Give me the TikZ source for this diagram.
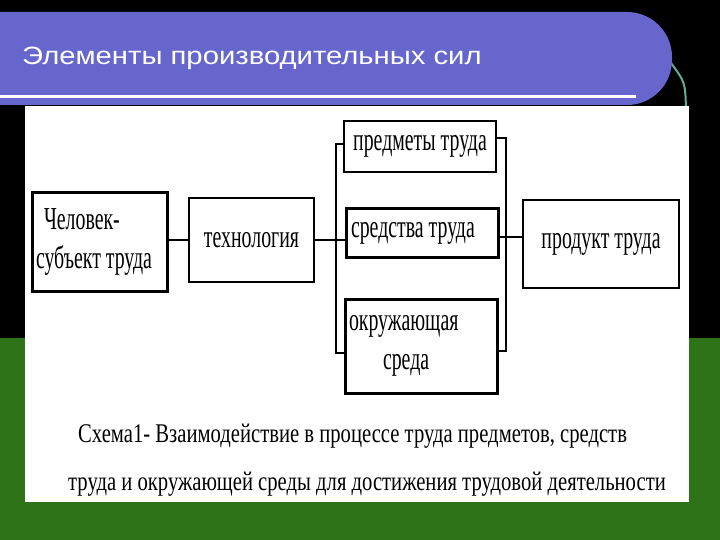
\documentclass[tikz,border=0pt]{standalone}
\usepackage{fontspec}
\setmainfont{Liberation Serif}
\newfontfamily\boxfont[FakeStretch=0.62]{Liberation Serif}
\newfontfamily\capfont[FakeStretch=0.765]{Liberation Serif}
\newfontfamily\titlefont[FakeStretch=1.17]{Liberation Sans}
\usetikzlibrary{positioning, calc}
\definecolor{slideblue}{RGB}{102, 102, 204}
\definecolor{slidegreen}{RGB}{46, 115, 24}
\definecolor{slideteal}{RGB}{102, 170, 153}
\tikzset{box/.style={draw=black, line width=2.2pt, inner xsep=4pt, inner ysep=0pt, font=\fontsize{32}{39}\boxfont}}
\tikzset{hbox/.style={box, line width=3pt}}
\tikzset{conn/.style={color=black, line width=2.2pt}}

\begin{document}
\begin{tikzpicture}[x=1pt, y=-1pt]
        \useasboundingbox (0,0) rectangle (720,540);
        \fill[black] (0,0) rectangle (720,540);
        \fill[slidegreen] (0,338) rectangle (720,540);

        % title bar
        \draw[slideteal, line width=2pt] (671,63) .. controls (685,82) .. (686,107);
        \fill[slideblue, rounded corners=45pt] (-60,12) rectangle (672,105);
        \fill[white] (0,95) rectangle (636,98.5);
        \node[anchor=base west, inner sep=0pt, text=white, font=\fontsize{25}{30}\titlefont] (Ttl) at (22,65)
        {Элементы производительных сил};

        % panel
        \fill[white] (25,106) rectangle (689,502);

        \node[hbox, minimum width=135pt, minimum height=98pt, text width=127pt, align=left] (Nman) at (99.5, 242)
        {\spaceskip=0pt\hspace*{8pt}Человек-\\субъект труда};
        \node[box, minimum width=125pt, minimum height=84pt, align=center] (Ntech) at (251.5, 240)
        {технология};
        \node[box, minimum width=152pt, minimum height=51pt, align=center] (Nobj) at (420, 146.5)
        {предметы труда};
        \node[hbox, minimum width=152pt, minimum height=48pt, text width=142pt, align=left] (Nmeans) at (422, 233)
        {\spaceskip=0pt средства труда};
        \node[hbox, minimum width=150pt, minimum height=94pt, text width=144pt, align=left] (Nenv) at (421, 346)
        {\spaceskip=0pt окружающая\\\hspace*{34pt}среда};
        \node[box, line width=1.6pt, minimum width=156pt, minimum height=88pt, align=center] (Nprod) at (601, 244)
        {продукт труда};

        \coordinate (Bl1) at (336, 144);
        \coordinate (Bl2) at (336, 353);
        \coordinate (Br1) at (506, 138);
        \coordinate (Br2) at (506, 351);
        \coordinate (Br0) at (506, 237);

        \draw [conn] (Nman.east |- Ntech.west) -- (Ntech.west);
        \draw [conn] (Ntech.east) -- (Nmeans.west |- Ntech.east);
        \draw [conn] (Nobj.west |- Bl1) -- (Bl1) -- (Bl2) -- (Nenv.west |- Bl2);
        \draw [conn] (Nobj.east |- Br1) -- (Br1) -- (Br2) -- (Nenv.east |- Br2);
        \draw [conn] (Nmeans.east |- Br0) -- (Nprod.west |- Br0);

        \node[anchor=west, inner sep=0pt, align=left, font=\fontsize{27}{48}\capfont] (Ncap) at (68, 460)
        {\hspace*{10pt}Схема1- Взаимодействие в процессе труда предметов, средств\\
        труда и окружающей среды для достижения трудовой деятельности};
    \end{tikzpicture}
\end{document}
